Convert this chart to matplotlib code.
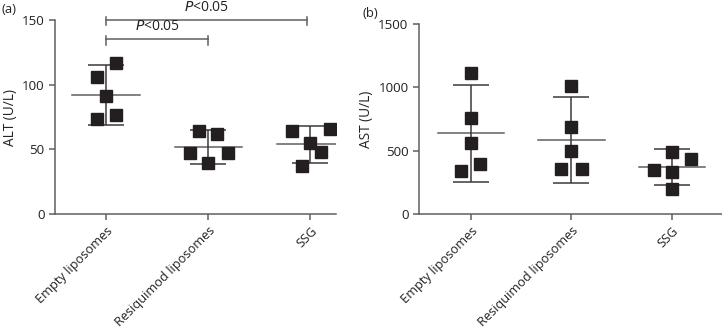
import numpy as np
import matplotlib.pyplot as plt

plt.rcParams['font.family'] = ['Open Sans', 'DejaVu Sans']
plt.rcParams['font.size'] = 9.4

groups = ['Empty liposomes', 'Resiquimod liposomes', 'SSG']

# individual animals
alt_vals = [[117, 105.7, 91.5, 76.3, 73.2],
            [64.2, 61.9, 47.4, 47.4, 39.2],
            [64.2, 65.5, 55.2, 48.2, 37.1]]
ast_vals = [[1116, 755, 563, 395, 337],
            [1011, 684, 500, 355, 355],
            [487, 434, 347, 332, 200]]

# mean and SD bars as drawn
alt_mean = [92.3, 52.1, 53.9]
alt_sd = [23.2, 13.1, 14.2]
ast_mean = [637, 582, 371]
ast_sd = [385, 340, 140]

# horizontal jitter of the points within a group
alt_jit = [[0.1, -0.09, 0, 0.1, -0.09],
           [-0.09, 0.09, -0.18, 0.19, 0],
           [-0.18, 0.19, 0, 0.1, -0.08]]
ast_jit = [[0, 0, 0, 0.09, -0.1],
           [0, 0, 0, 0.1, -0.1],
           [0, 0.19, -0.18, 0, 0]]

line_c = '#5f5f5f'
mark_c = '#231f20'
text_c = '#222222'


def draw(ax, vals, mean, sd, jit):
    for i in range(len(groups)):
        ax.plot([i - 0.33, i + 0.33], [mean[i], mean[i]], color=line_c, lw=1.1, zorder=2)
        ax.errorbar(i, mean[i], yerr=sd[i], color='#3a3a3a', lw=1.1,
                    capsize=13, capthick=1.1, fmt='none', zorder=2)
        ax.plot(np.array(jit[i]) + i, vals[i], 's', color=mark_c, ms=8.8, zorder=3)
    ax.spines['top'].set_visible(False)
    ax.spines['right'].set_visible(False)
    for s in ['left', 'bottom']:
        ax.spines[s].set_color(line_c)
        ax.spines[s].set_linewidth(1.1)
    ax.tick_params(colors=line_c, labelcolor=text_c, length=4, width=1.1, labelsize=9.6)
    ax.set_xticks(range(len(groups)))
    ax.set_xticklabels(groups, rotation=45, ha='right', rotation_mode='anchor',
                       fontsize=9.2)


fig = plt.figure(figsize=(7.22, 3.29), dpi=100)
ax1 = fig.add_axes([0.0762, 0.3495, 0.3892, 0.5897])
ax2 = fig.add_axes([0.5803, 0.3495, 0.4197, 0.5775])

draw(ax1, alt_vals, alt_mean, alt_sd, alt_jit)
ax1.set_ylim(0, 150)
ax1.set_xlim(-0.5, 2.25)
ax1.set_yticks([0, 50, 100, 150])
ax1.set_ylabel('ALT (U/L)', color=text_c, labelpad=3, fontsize=9.8)

# significance brackets
for x0, x1, y in [(0, 1, 135), (0, 1.97, 150)]:
    ax1.plot([x0, x1], [y, y], color=line_c, lw=1.1, clip_on=False)
    for xx in (x0, x1):
        ax1.plot([xx, xx], [y - 4, y + 2.5], color=line_c, lw=1.1, clip_on=False)
    ax1.text((x0 + x1) / 2, y + 4, r'$P$<0.05', ha='center', va='bottom',
             color=text_c, fontsize=10)

draw(ax2, ast_vals, ast_mean, ast_sd, ast_jit)
ax2.set_ylim(0, 1500)
ax2.set_xlim(-0.52, 2.5)
ax2.set_yticks([0, 500, 1000, 1500])
ax2.set_ylabel('AST (U/L)', color=text_c, labelpad=3, fontsize=9.8)

fig.text(0.002, 0.99, '(a)', ha='left', va='top', color=text_c)
fig.text(0.502, 0.98, '(b)', ha='left', va='top', color=text_c)

plt.savefig('out.png', format='png', dpi=100)
